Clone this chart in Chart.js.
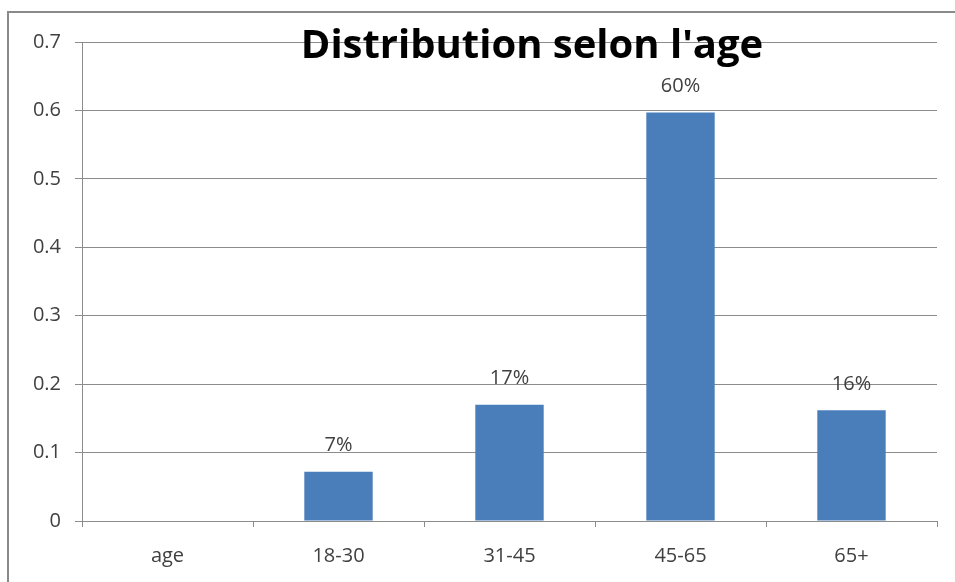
<!DOCTYPE html>
<html>
<head>
<meta charset="utf-8">
<script src="https://cdn.jsdelivr.net/npm/chart.js@4"></script>
<style>
  html, body { margin: 0; padding: 0; background: #fff; }
  #wrap { width: 955px; height: 582px; }
</style>
</head>
<body>
<div id="wrap"><canvas id="ageChart" width="955" height="582"></canvas></div>
<script>
// Data
const categories = ['age', '18-30', '31-45', '45-65', '65+'];
const shares = [null, 0.072, 0.17, 0.597, 0.162];
const yTicks = [0, 0.1, 0.2, 0.3, 0.4, 0.5, 0.6, 0.7];
const chartTitle = "Distribution selon l'age";

const FONT = '"Open Sans", Lato, sans-serif';
const GRID = '#8c8c8c';

// Outer frame + title + value labels
const decorations = {
  id: 'decorations',
  beforeDraw(chart) {
    const c = chart.ctx;
    c.save();
    c.fillStyle = '#fff';
    c.fillRect(0, 0, chart.width, chart.height);
    c.strokeStyle = '#8a8a8a';
    c.lineWidth = 2;
    c.strokeRect(8, 12, chart.width + 10, chart.height + 10);
    c.restore();
  },
  afterDatasetsDraw(chart) {
    const c = chart.ctx;
    const meta = chart.getDatasetMeta(0);
    c.save();
    c.font = '20px ' + FONT;
    c.fillStyle = '#404040';
    c.textAlign = 'center';
    c.textBaseline = 'middle';
    meta.data.forEach((bar, i) => {
      const v = shares[i];
      if (v == null) return;
      c.fillText(Math.round(v * 100) + '%', bar.x, bar.y - 26);
    });
    c.font = 'bold 40px ' + FONT;
    c.fillStyle = '#000';
    c.fillText(chartTitle, 532, 47);
    c.restore();
  }
};

new Chart(document.getElementById('ageChart'), {
  type: 'bar',
  data: {
    labels: categories,
    datasets: [{
      data: shares,
      backgroundColor: '#4a7ebb',
      borderWidth: 0,
      categoryPercentage: 1,
      barPercentage: 0.4
    }]
  },
  options: {
    responsive: false,
    animation: false,
    layout: { padding: { top: 42, right: 18, left: 0, bottom: 0 } },
    plugins: { legend: { display: false }, tooltip: { enabled: false }, title: { display: false } },
    scales: {
      x: {
        afterFit: s => { s.height = 61; },
        grid: { offset: true, drawOnChartArea: false, drawTicks: true, tickLength: 6, color: GRID },
        border: { color: GRID },
        ticks: { color: '#404040', font: { family: FONT, size: 20 }, padding: 17 }
      },
      y: {
        min: 0,
        max: 0.7,
        afterFit: s => { s.width = 82; },
        afterBuildTicks: s => { s.ticks = yTicks.map(v => ({ value: v })); },
        grid: { color: GRID, tickLength: 7 },
        border: { color: GRID },
        ticks: { color: '#404040', font: { family: FONT, size: 20 }, padding: 14 }
      }
    }
  },
  plugins: [decorations]
});
</script>
</body>
</html>
